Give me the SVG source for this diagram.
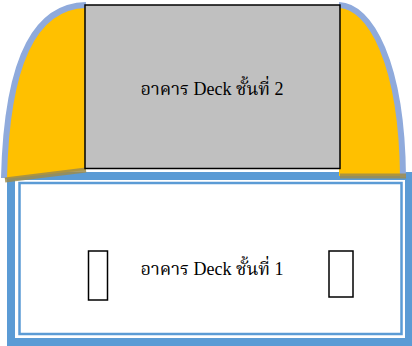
<svg xmlns="http://www.w3.org/2000/svg" width="412" height="346" viewBox="0 0 412 346">
<style>
.lbl{font-family:"Liberation Serif","Noto Serif Thai","Noto Sans Thai Looped","DejaVu Serif",serif;font-size:18px;fill:#000;text-anchor:middle}
.wing{fill:#FFC000;stroke:none}
.arc{fill:none;stroke:#8FAADC;stroke-width:6}
.edge{fill:none;stroke:#9E8C4C;stroke-width:5;stroke-opacity:0.85}
.door{fill:#fff;stroke:#000;stroke-width:1.5}
</style>
<g id="deck1">
  <rect x="11" y="176" width="398" height="166" fill="#fff" stroke="#5B9BD5" stroke-width="8"/>
  <rect x="19.5" y="183" width="382" height="151" fill="none" stroke="#5B9BD5" stroke-width="2.5"/>
  <text class="lbl" x="212" y="275">อาคาร Deck ชั้นที่ 1</text>
</g>
<g id="wing-left">
  <path class="wing" d="M86,5 C40,6 7,50 5,179 L86,170 Z"/>
  <path class="arc" d="M86,5 C40,6 7,50 4,178"/>
  <path class="edge" d="M5,180 L86,170"/>
</g>
<g id="wing-right">
  <path class="wing" d="M339,5 C370,6 402,62 403,176 L339,176 Z"/>
  <path class="arc" d="M339,5 C370,6 402,62 403,177"/>
  <path class="edge" d="M340,176 L406,176"/>
</g>
<g id="deck2">
  <rect x="85" y="5" width="255" height="163.5" fill="#C0C0C0" stroke="#000" stroke-width="1.5"/>
  <text class="lbl" x="212" y="95">อาคาร Deck ชั้นที่ 2</text>
</g>
<g id="door-left">
  <rect class="door" x="88.5" y="251" width="19" height="49"/>
</g>
<g id="door-right">
  <rect class="door" x="329" y="251" width="24" height="46"/>
</g>
</svg>
